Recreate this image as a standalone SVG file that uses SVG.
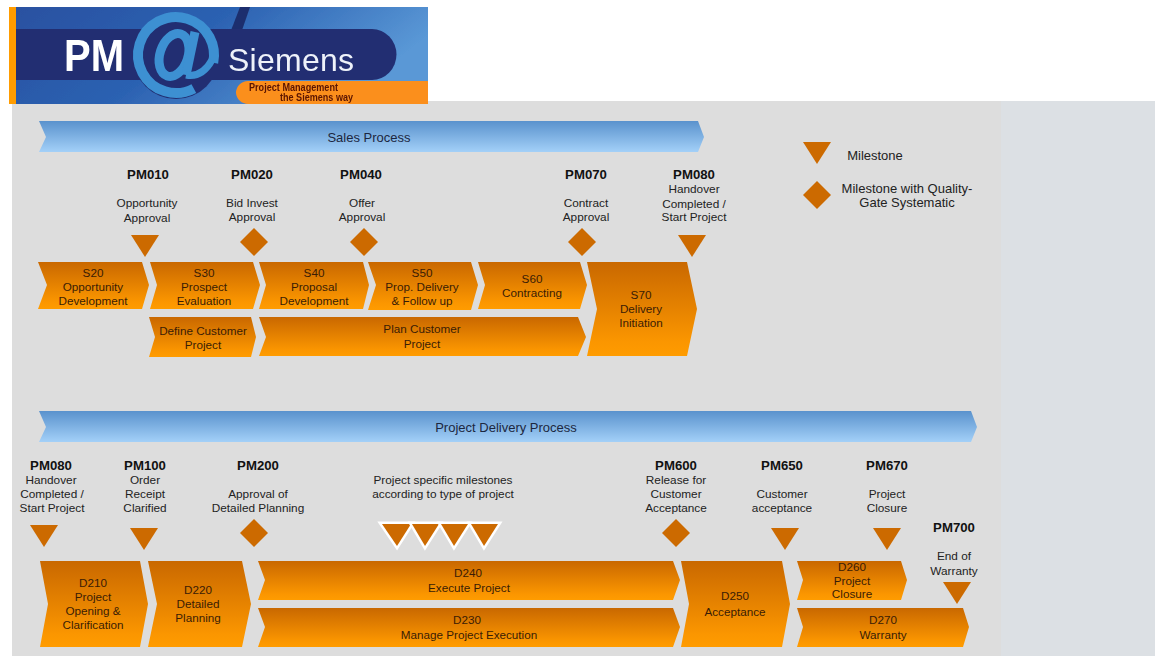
<svg xmlns="http://www.w3.org/2000/svg" width="1155" height="656" viewBox="0 0 1155 656">
<defs>
<linearGradient id="og" x1="0" y1="0" x2="0" y2="1"><stop offset="0" stop-color="#c96800"/><stop offset="0.85" stop-color="#fb9600"/><stop offset="1" stop-color="#ff9c00"/></linearGradient>
<linearGradient id="bg" x1="0" y1="0" x2="0" y2="1"><stop offset="0" stop-color="#5a92cd"/><stop offset="1" stop-color="#a3d0f8"/></linearGradient>
<linearGradient id="sky" x1="0" y1="0" x2="1" y2="0.3"><stop offset="0" stop-color="#2a50a0"/><stop offset="0.5" stop-color="#2c62b2"/><stop offset="1" stop-color="#5a98d6"/></linearGradient>
<filter id="soft" x="-5%" y="-5%" width="110%" height="110%"><feGaussianBlur stdDeviation="0.7"/></filter>
<polygon id="tri" points="-14,0 14,0 0,22" fill="#cc6a00"/>
<polygon id="dia" points="0,-14 14,0 0,14 -14,0" fill="#cc6a00"/>
</defs>
<style>
text{font-family:"Liberation Sans",Arial,sans-serif;text-anchor:middle}
.c{fill:url(#og)}
.b{fill:url(#bg)}
.t{font-size:11.8px;fill:#222}
.o{font-size:11.7px;fill:#3a1c05}
.h{font-size:13px;fill:#1c2740}
.p{font-size:13.2px;font-weight:bold;fill:#111}
.l{font-size:13px;fill:#222}
.w{fill:#cc6a00;stroke:#fff;stroke-width:5;paint-order:stroke;stroke-linejoin:miter}
</style>
<rect width="1155" height="656" fill="#fff"/>
<rect x="12" y="101" width="989" height="555" fill="#dddddd"/>
<rect x="1001" y="101" width="154" height="555" fill="#dce0e4"/>

<g id="logo" filter="url(#soft)">
<rect x="9" y="7" width="419" height="97" fill="url(#sky)"/>
<polygon points="240,7 250,7 225,80 212,80" fill="#1d2f6e"/>
<path d="M16 29H372a24 25 0 0 1 0 51H16Z" fill="#222f72"/>
<circle cx="176" cy="56" r="43" fill="#222f72"/>
<path d="M236 93a12 12 0 0 1 12-12H428V104H248a12 12 0 0 1-12-11Z" fill="#fb8f1e"/>
<rect x="9" y="7" width="7" height="97" fill="#ff9c00"/>
<circle cx="176" cy="55" r="38" fill="none" stroke="#3c90d2" stroke-width="10" stroke-dasharray="205 34" transform="rotate(62 176 55)"/>
<ellipse cx="174" cy="55" rx="14" ry="22" fill="none" stroke="#3c90d2" stroke-width="9" transform="rotate(18 174 55)"/>
<line x1="195" y1="32" x2="186" y2="75" stroke="#3c90d2" stroke-width="9"/>
<path d="M186 75Q202 78 212 60" fill="none" stroke="#3c90d2" stroke-width="7"/>
<text x="94" y="71" style="font-size:44px;font-weight:bold;fill:#fff" textLength="60" lengthAdjust="spacingAndGlyphs">PM</text>
<text x="291" y="71" style="font-size:32px;fill:#eef2fa" textLength="126">Siemens</text>
<text x="293.500" y="91" style="font-size:10.500px;font-weight:bold;fill:#5a1400" textLength="89" lengthAdjust="spacingAndGlyphs">Project Management</text>
<text x="316.500" y="101" style="font-size:10.500px;font-weight:bold;fill:#5a1400" textLength="73" lengthAdjust="spacingAndGlyphs">the Siemens way</text>
</g>

<g id="sales-process"><polygon class="b" points="39,121 698,121 704,137 698,152 39,152 46,137"/><text class="h" x="369" y="142">Sales Process</text></g>
<g id="delivery-process"><polygon class="b" points="39,411 971,411 977,427 971,442 39,442 46,427"/><text class="h" x="506" y="432">Project Delivery Process</text></g>

<g id="legend">
<use href="#tri" x="817" y="142"/><text class="l" x="875" y="160">Milestone</text>
<use href="#dia" x="817" y="195"/><text class="l" x="907" y="193">Milestone with Quality-</text><text class="l" x="907" y="207">Gate Systematic</text>
</g>

<g id="s20"><polygon class="c" points="38,262 142,262 149,285 142,309 38,309 47,285"/><text class="o" x="93" y="277">S20</text><text class="o" x="93" y="291">Opportunity</text><text class="o" x="93" y="305">Development</text></g>
<g id="s30"><polygon class="c" points="150,262 253,262 260,285 253,309 150,309 157,285"/><text class="o" x="204" y="277">S30</text><text class="o" x="204" y="291">Prospect</text><text class="o" x="204" y="305">Evaluation</text></g>
<g id="s40"><polygon class="c" points="259,262 363,262 369,285 363,309 259,309 266,285"/><text class="o" x="314" y="277">S40</text><text class="o" x="314" y="291">Proposal</text><text class="o" x="314" y="305">Development</text></g>
<g id="s50"><polygon class="c" points="368,262 471,262 478,285 471,310 368,310 376,285"/><text class="o" x="422" y="277">S50</text><text class="o" x="422" y="291">Prop. Delivery</text><text class="o" x="422" y="305">&amp; Follow up</text></g>
<g id="s60"><polygon class="c" points="478,262 580,262 587,285 580,309 478,309 485,285"/><text class="o" x="532" y="283">S60</text><text class="o" x="532" y="297">Contracting</text></g>
<g id="s70"><polygon class="c" points="587,262 687,262 697,309 687,356 587,356 597,309"/><text class="o" x="641" y="299">S70</text><text class="o" x="641" y="313">Delivery</text><text class="o" x="641" y="327">Initiation</text></g>
<g id="define-customer"><polygon class="c" points="149,317 251,317 256,337 251,357 149,357 155,337"/><text class="o" x="203" y="335">Define Customer</text><text class="o" x="203" y="349">Project</text></g>
<g id="plan-customer"><polygon class="c" points="259,317 578,317 586,337 578,356 259,356 266,337"/><text class="o" x="422" y="333">Plan Customer</text><text class="o" x="422" y="348">Project</text></g>

<g id="d210"><polygon class="c" points="40,561 140,561 148,604 140,647 40,647 48,604"/><text class="o" x="93" y="587">D210</text><text class="o" x="93" y="601">Project</text><text class="o" x="93" y="615">Opening &amp;</text><text class="o" x="93" y="629">Clarification</text></g>
<g id="d220"><polygon class="c" points="148,561 242,561 251,604 242,647 148,647 157,604"/><text class="o" x="198" y="594">D220</text><text class="o" x="198" y="608">Detailed</text><text class="o" x="198" y="622">Planning</text></g>
<g id="d240"><polygon class="c" points="258,561 673,561 680,580 673,600 258,600 265,580"/><text class="o" x="468" y="577">D240</text><text class="o" x="469" y="592">Execute Project</text></g>
<g id="d230"><polygon class="c" points="258,608 673,608 680,627 673,647 258,647 265,627"/><text class="o" x="467" y="624">D230</text><text class="o" x="469" y="639">Manage Project Execution</text></g>
<g id="d250"><polygon class="c" points="681,561 782,561 790,604 782,647 681,647 689,604"/><text class="o" x="735" y="600">D250</text><text class="o" x="735" y="616">Acceptance</text></g>
<g id="d260"><polygon class="c" points="797,561 901,561 907,580 901,600 797,600 803,580"/><text class="o" x="852" y="571">D260</text><text class="o" x="852" y="585">Project</text><text class="o" x="852" y="598">Closure</text></g>
<g id="d270"><polygon class="c" points="797,608 963,608 969,627 963,647 797,647 803,627"/><text class="o" x="883" y="624">D270</text><text class="o" x="883" y="639">Warranty</text></g>

<g id="pm010"><text class="p" x="148" y="179">PM010</text><text class="t" x="147" y="207">Opportunity</text><text class="t" x="147" y="222">Approval</text><use href="#tri" x="145" y="235"/></g>
<g id="pm020"><text class="p" x="252" y="179">PM020</text><text class="t" x="252" y="207">Bid Invest</text><text class="t" x="252" y="221">Approval</text><use href="#dia" x="254" y="242"/></g>
<g id="pm040"><text class="p" x="361" y="179">PM040</text><text class="t" x="362" y="207">Offer</text><text class="t" x="362" y="221">Approval</text><use href="#dia" x="364" y="242"/></g>
<g id="pm070"><text class="p" x="586" y="179">PM070</text><text class="t" x="586" y="207">Contract</text><text class="t" x="586" y="221">Approval</text><use href="#dia" x="582" y="242"/></g>
<g id="pm080-sales"><text class="p" x="694" y="179">PM080</text><text class="t" x="694" y="193">Handover</text><text class="t" x="694" y="208">Completed /</text><text class="t" x="694" y="221">Start Project</text><use href="#tri" x="692" y="235"/></g>

<g id="pm080-delivery"><text class="p" x="51" y="470">PM080</text><text class="t" x="51" y="484">Handover</text><text class="t" x="52" y="498">Completed /</text><text class="t" x="52" y="512">Start Project</text><use href="#tri" x="44" y="525"/></g>
<g id="pm100"><text class="p" x="145" y="470">PM100</text><text class="t" x="145" y="484">Order</text><text class="t" x="145" y="498">Receipt</text><text class="t" x="145" y="512">Clarified</text><use href="#tri" x="144" y="528"/></g>
<g id="pm200"><text class="p" x="258" y="470">PM200</text><text class="t" x="258" y="498">Approval of</text><text class="t" x="258" y="512">Detailed Planning</text><use href="#dia" x="254" y="533"/></g>
<g id="project-specific"><text class="t" x="443" y="484">Project specific milestones</text><text class="t" x="443" y="498">according to type of project</text>
<polygon class="w" points="382,524 411,524 397,546"/><polygon class="w" points="412,524 439,524 425,546"/><polygon class="w" points="441,524 468,524 454,546"/><polygon class="w" points="471,524 498,524 484,546"/></g>
<g id="pm600"><text class="p" x="676" y="470">PM600</text><text class="t" x="676" y="484">Release for</text><text class="t" x="676" y="498">Customer</text><text class="t" x="676" y="512">Acceptance</text><use href="#dia" x="676" y="533"/></g>
<g id="pm650"><text class="p" x="782" y="470">PM650</text><text class="t" x="782" y="498">Customer</text><text class="t" x="782" y="512">acceptance</text><use href="#tri" x="785" y="528"/></g>
<g id="pm670"><text class="p" x="887" y="470">PM670</text><text class="t" x="887" y="498">Project</text><text class="t" x="887" y="512">Closure</text><use href="#tri" x="887" y="528"/></g>
<g id="pm700"><text class="p" x="954" y="532">PM700</text><text class="t" x="954" y="560">End of</text><text class="t" x="954" y="575">Warranty</text><use href="#tri" x="957" y="582"/></g>
</svg>
